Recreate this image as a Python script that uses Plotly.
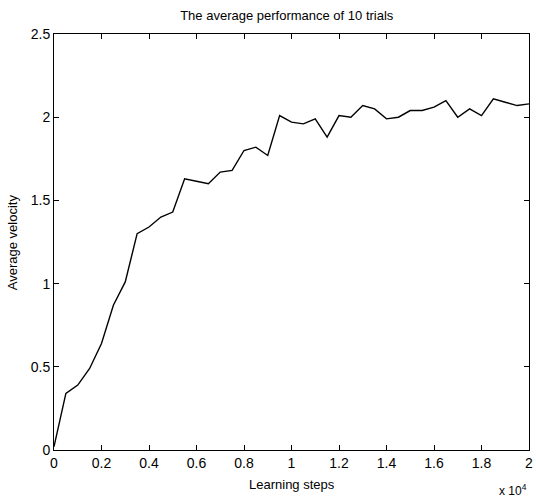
import plotly.graph_objects as go

# Learning steps (raw count) and average velocity
steps = [0, 500, 1000, 1500, 2000, 2500, 3000, 3500, 4000, 4500, 5000,
         5500, 6000, 6500, 7000, 7500, 8000, 8500, 9000, 9500, 10000,
         10500, 11000, 11500, 12000, 12500, 13000, 13500, 14000, 14500, 15000,
         15500, 16000, 16500, 17000, 17500, 18000, 18500, 19000, 19500, 20000]
velocity = [0.02, 0.34, 0.39, 0.49, 0.64, 0.87, 1.01, 1.30, 1.34, 1.40, 1.43,
            1.63, 1.615, 1.60, 1.67, 1.68, 1.80, 1.82, 1.77, 2.01, 1.97,
            1.96, 1.99, 1.88, 2.01, 2.00, 2.07, 2.05, 1.99, 2.00, 2.04,
            2.04, 2.06, 2.10, 2.00, 2.05, 2.01, 2.11, 2.09, 2.07, 2.08]

x_tickvals = [0, 2000, 4000, 6000, 8000, 10000, 12000, 14000, 16000, 18000, 20000]
x_ticktext = ["0", "0.2", "0.4", "0.6", "0.8", "1", "1.2", "1.4", "1.6", "1.8", "2"]
y_tickvals = [0, 0.5, 1, 1.5, 2, 2.5]
y_ticktext = ["0", "0.5", "1", "1.5", "2", "2.5"]

font_family = "Liberation Sans, Arial, sans-serif"

fig = go.Figure()
fig.add_trace(go.Scatter(x=steps, y=velocity, mode="lines",
                         line=dict(color="black", width=1.4),
                         showlegend=False))

fig.update_layout(
    width=536, height=501,
    margin=dict(l=54, r=3, t=34, b=51),
    paper_bgcolor="white", plot_bgcolor="white",
    font=dict(family=font_family, color="black", size=13),
    title=dict(text="The average performance of 10 trials",
               x=0.535, xanchor="center", y=0.97, yanchor="middle",
               font=dict(size=13, family=font_family, color="black")),
)
fig.update_xaxes(range=[0, 20000], tickvals=x_tickvals, ticktext=x_ticktext,
                 ticks="inside", ticklen=5, tickcolor="black",
                 showline=True, linecolor="black", linewidth=1, mirror="ticks",
                 showgrid=False, zeroline=False, ticklabeloverflow="allow",
                 tickfont=dict(size=14))
fig.update_yaxes(range=[0, 2.5], tickvals=y_tickvals, ticktext=y_ticktext,
                 ticks="inside", ticklen=5, tickcolor="black",
                 showline=True, linecolor="black", linewidth=1, mirror="ticks",
                 showgrid=False, zeroline=False,
                 tickfont=dict(size=14))
# axis titles placed as annotations for exact positioning
fig.add_annotation(text="Learning steps", xref="paper", yref="paper",
                   x=0.5, y=-0.084, xanchor="center", yanchor="middle",
                   showarrow=False, font=dict(size=13, family=font_family))
fig.add_annotation(text="Average velocity", xref="paper", yref="paper",
                   x=-0.088, y=0.5, xanchor="center", yanchor="middle",
                   textangle=-90, showarrow=False,
                   font=dict(size=13, family=font_family))
fig.add_annotation(text="x 10<sup>4</sup>", xref="paper", yref="paper",
                   x=1.0, y=-0.121, xanchor="right", yanchor="bottom",
                   showarrow=False, font=dict(size=12, family=font_family))

fig.write_html("out.html")
